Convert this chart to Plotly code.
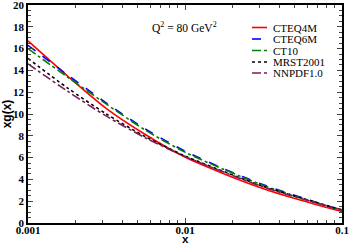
import plotly.graph_objects as go

x_vals = [0.001, 0.00178, 0.00316, 0.00562, 0.01, 0.0178, 0.0316, 0.0562, 0.1]
cteq4m = [16.7, 13.5, 10.5, 8.1, 6.05, 4.5, 3.15, 2.05, 1.05]
cteq6m = [16.3, 13.6, 11.0, 8.6, 6.6, 4.95, 3.5, 2.3, 1.15]
ct10 = [16.0, 13.4, 10.9, 8.5, 6.5, 4.9, 3.45, 2.25, 1.15]
mrst2001 = [15.1, 12.4, 10.0, 7.9, 6.15, 4.7, 3.35, 2.25, 1.2]
nnpdf10 = [14.6, 12.1, 9.8, 7.8, 6.1, 4.65, 3.3, 2.2, 1.2]

names = ["CTEQ4M", "CTEQ6M", "CT10", "MRST2001", "NNPDF1.0"]
series = [cteq4m, cteq6m, ct10, mrst2001, nnpdf10]
colors = ["#ff0000", "#0000ff", "#008000", "#000000", "#7b1a5a"]
dashes = ["solid", "dash", "dashdot", "dot", "dashdot"]
x_ticks = [0.001, 0.01, 0.1]
x_ticktext = ["0.001", "0.01", "0.1"]
y_ticks = [0, 2, 4, 6, 8, 10, 12, 14, 16, 18, 20]

fig = go.Figure()
for n, s, c, d in zip(names, series, colors, dashes):
    fig.add_trace(go.Scatter(x=x_vals, y=s, mode="lines", name=n,
                             line=dict(color=c, width=1.6, dash=d, shape="spline", smoothing=0.8),
                             showlegend=False))

# manual legend
L, R, T, B = 28, 342, 5, 223
pw, ph = R - L, B - T
rows = [27.5, 39.0, 50.5, 62.0, 73.0]
for n, c, d, yy in zip(names, colors, dashes, rows):
    yp = (B - yy) / ph
    fig.add_shape(type="line", xref="paper", yref="paper",
                  x0=(252 - L) / pw, x1=(267 - L) / pw, y0=yp, y1=yp,
                  line=dict(color=c, width=1.6, dash=d))
    fig.add_annotation(text=n, xref="paper", yref="paper", x=(271 - L) / pw, y=yp,
                       xanchor="left", yanchor="middle", showarrow=False,
                       font=dict(family="Liberation Serif", size=11, color="black"))

fig.add_annotation(text="Q<sup>2</sup> = 80 GeV<sup>2</sup>", xref="paper", yref="paper",
                   x=(150 - L) / pw, y=(B - 27) / ph, xanchor="left", yanchor="middle",
                   showarrow=False,
                   font=dict(family="Liberation Serif", size=11.5, color="black"))

fig.add_annotation(text="<b>x</b>", xref="paper", yref="paper",
                   x=(185 - L) / pw, y=(B - 238.5) / ph, xanchor="center", yanchor="middle",
                   showarrow=False,
                   font=dict(family="Liberation Sans", size=11.5, color="black"))

fig.update_layout(
    width=349, height=244,
    margin=dict(l=L, r=349 - R, t=T, b=244 - B),
    paper_bgcolor="white", plot_bgcolor="white",
    showlegend=False,
    xaxis=dict(type="log", range=[-3, -1], tickvals=x_ticks, ticktext=x_ticktext,
               automargin=False, ticklabelstandoff=-4, ticklabeloverflow="allow",
               ticks="inside", ticklen=5, tickwidth=1, mirror="allticks",
               showline=True, linecolor="black", linewidth=1.5, showgrid=False,
               zeroline=False,
               tickfont=dict(family="Liberation Serif", size=11, color="black", weight="bold"),
               minor=dict(ticks="inside", ticklen=3, dtick="D1", showgrid=False)),
    yaxis=dict(range=[0, 20], tickvals=y_ticks, automargin=False,
               ticklabeloverflow="allow",
               ticks="inside", ticklen=5, tickwidth=1, mirror="allticks",
               showline=True, linecolor="black", linewidth=1.5, showgrid=False,
               zeroline=False,
               tickfont=dict(family="Liberation Serif", size=11, color="black", weight="bold"),
               minor=dict(ticks="inside", ticklen=3, dtick=0.5, showgrid=False),
               title=dict(text="<b>xg(x)</b>", standoff=2,
                          font=dict(family="Liberation Sans", size=12, color="black"))),
)

fig.write_html("out.html", config={"displayModeBar": False},
               post_script="document.body.style.margin='0';document.body.style.overflow='hidden';")
